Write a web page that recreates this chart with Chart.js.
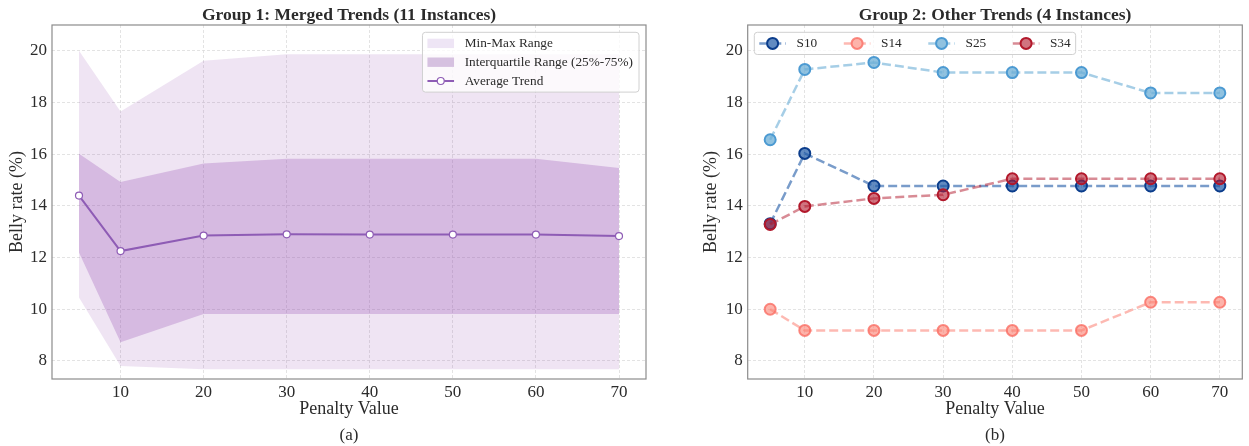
<!DOCTYPE html>
<html>
<head>
<meta charset="utf-8">
<script src="https://cdn.jsdelivr.net/npm/chart.js@4.4.0/dist/chart.umd.min.js"></script>
<style>
html, body { margin: 0; padding: 0; background: #fff; overflow: hidden; width: 1249px; height: 446px; }
.box { position: absolute; top: 0; height: 446px; }
#wrapA { left: 0; width: 698px; }
#wrapB { left: 698px; width: 594px; }
</style>
</head>
<body>
<div class="box" id="wrapA"><canvas id="chartA"></canvas></div>
<div class="box" id="wrapB"><canvas id="chartB"></canvas></div>
<script>
// data
var penalty = [5, 10, 20, 30, 40, 50, 60, 70];
var xTicks = [10, 20, 30, 40, 50, 60, 70];
var yTicks = [8, 10, 12, 14, 16, 18, 20];

// group 1 (11 instances)
var minVals = [10.45, 7.8, 7.68, 7.68, 7.68, 7.68, 7.68, 7.68];
var maxVals = [20.0, 17.65, 19.62, 19.87, 19.87, 19.87, 19.87, 19.87];
var q25Vals = [12.2, 8.72, 9.82, 9.82, 9.82, 9.82, 9.82, 9.82];
var q75Vals = [16.02, 14.92, 15.64, 15.82, 15.82, 15.82, 15.82, 15.47];
var avgVals = [14.4, 12.25, 12.85, 12.9, 12.89, 12.89, 12.89, 12.83];

// group 2 (4 instances)
var s10 = [13.31, 16.03, 14.77, 14.77, 14.77, 14.77, 14.77, 14.77];
var s14 = [10.0, 9.18, 9.18, 9.18, 9.18, 9.18, 10.27, 10.27];
var s25 = [16.56, 19.28, 19.55, 19.16, 19.16, 19.16, 18.37, 18.37];
var s34 = [13.28, 13.98, 14.29, 14.43, 15.05, 15.05, 15.05, 15.05];

var SERIF = '"Liberation Serif", "Times New Roman", serif';
var TXT = '#2b2b2b';

function pts(vals) {
    return penalty.map(function (p, i) { return { x: p, y: vals[i] }; });
}

// frame on all four sides, like matplotlib spines
var spines = {
    id: 'spines',
    afterDatasetsDraw: function (chart) {
        var a = chart.chartArea, ctx = chart.ctx;
        ctx.save();
        ctx.strokeStyle = '#8c8c8c';
        ctx.lineWidth = 1.2;
        ctx.strokeRect(a.left, a.top, a.right - a.left, a.bottom - a.top);
        ctx.restore();
    }
};

// legend drawn inside the plot area
var insideLegend = {
    id: 'insideLegend',
    afterDraw: function (chart, args, opts) {
        var ctx = chart.ctx, a = chart.chartArea;
        var fs = 13.3, pad = 5, handle = 26.6, tpad = 10.6, colsp = 26.6, rowH = 18.8;
        var items = chart.data.datasets.filter(function (d) { return !d.hideInLegend; });
        ctx.save();
        ctx.font = fs + 'px ' + SERIF;
        var widths = items.map(function (d) { return ctx.measureText(d.label).width; });
        var w, h;
        if (opts.horizontal) {
            w = pad * 2;
            widths.forEach(function (tw, i) { w += handle + tpad + tw + (i > 0 ? colsp : 0); });
            h = rowH + 3.4;
        } else {
            w = pad * 2 + handle + tpad + Math.max.apply(null, widths) + 1;
            h = items.length * rowH + 3.4;
        }
        var left = opts.align === 'right' ? a.right - opts.offsetX - w : a.left + opts.offsetX;
        var top = a.top + opts.offsetY;

        ctx.beginPath();
        ctx.roundRect(left, top, w, h, 3);
        ctx.fillStyle = 'rgba(255,255,255,0.8)';
        ctx.fill();
        ctx.strokeStyle = '#d0d0d0';
        ctx.lineWidth = 1;
        ctx.stroke();

        var x = left + pad;
        items.forEach(function (d, i) {
            var cy = opts.horizontal ? top + 1.7 + rowH / 2 : top + 1.7 + rowH * (i + 0.5);
            var hx = opts.horizontal ? x : left + pad;
            if (d.legendPatch) {
                ctx.fillStyle = d.legendPatch;
                ctx.fillRect(hx, cy - 4.7, handle, 9.4);
            } else {
                ctx.save();
                ctx.strokeStyle = d.borderColor;
                ctx.lineWidth = d.borderWidth;
                ctx.setLineDash(d.borderDash || []);
                ctx.beginPath();
                ctx.moveTo(hx, cy);
                ctx.lineTo(hx + handle, cy);
                ctx.stroke();
                ctx.restore();
                ctx.beginPath();
                ctx.arc(hx + handle / 2, cy, d.pointRadius, 0, Math.PI * 2);
                ctx.fillStyle = '#fff';
                ctx.fill();
                ctx.fillStyle = d.pointBackgroundColor;
                ctx.fill();
                ctx.lineWidth = d.pointBorderWidth;
                ctx.strokeStyle = d.pointBorderColor;
                ctx.stroke();
            }
            ctx.fillStyle = TXT;
            ctx.textAlign = 'left';
            ctx.textBaseline = 'middle';
            ctx.fillText(d.label, hx + handle + tpad, cy + 0.5);
            x += handle + tpad + widths[i] + colsp;
        });
        ctx.restore();
    }
};

function makeOptions(title, sub, yWidth, yTitlePad, legendOpts) {
    return {
        responsive: true,
        maintainAspectRatio: false,
        animation: false,
        events: [],
        layout: { padding: 0 },
        plugins: {
            legend: { display: false },
            tooltip: { enabled: false },
            title: {
                display: true, text: title, color: TXT,
                font: { family: SERIF, size: 17.5, weight: 'bold' },
                padding: { top: 5, bottom: -1 }
            },
            subtitle: {
                display: true, position: 'bottom', text: sub, color: TXT,
                font: { family: SERIF, size: 17 },
                padding: { top: 0, bottom: 0 }
            },
            insideLegend: legendOpts
        },
        scales: {
            x: {
                type: 'linear', min: 1.75, max: 73.25,
                afterBuildTicks: function (s) { s.ticks = xTicks.map(function (v) { return { value: v }; }); },
                afterFit: function (s) { s.height = 46.6; },
                grid: { color: '#dcdcdc', lineWidth: 0.8, drawTicks: false },
                border: { display: false, dash: [3, 2] },
                ticks: { color: TXT, padding: 3, font: { family: SERIF, size: 17 } },
                title: {
                    display: true, text: 'Penalty Value', color: TXT,
                    font: { family: SERIF, size: 18 }, padding: { top: 0, bottom: 5.8 }
                }
            },
            y: {
                min: 7.3, max: 21.0,
                afterBuildTicks: function (s) { s.ticks = yTicks.map(function (v) { return { value: v }; }); },
                afterFit: function (s) { s.width = yWidth; },
                grid: { color: '#dcdcdc', lineWidth: 0.8, drawTicks: false },
                border: { display: false, dash: [3, 2] },
                ticks: { color: TXT, padding: 5, font: { family: SERIF, size: 17 } },
                title: {
                    display: true, text: 'Belly rate (%)', color: TXT,
                    font: { family: SERIF, size: 18 }, padding: { top: yTitlePad, bottom: 0 }
                }
            },
            // empty right-hand axis, keeps the plot centred under its title
            yRight: {
                position: 'right', min: 7.3, max: 21.0,
                afterFit: function (s) { s.width = yWidth; },
                grid: { display: false },
                border: { display: false },
                ticks: { display: false }
            }
        }
    };
}

var purple = '#8e5cb5';

new Chart(document.getElementById('chartA'), {
    type: 'line',
    data: {
        datasets: [
            { label: 'min', hideInLegend: true, data: pts(minVals), borderWidth: 0, pointRadius: 0, fill: false, order: 4 },
            { label: 'Min-Max Range', legendPatch: 'rgb(238,229,245)', data: pts(maxVals), borderWidth: 0, pointRadius: 0,
              backgroundColor: 'rgba(155,89,182,0.16)', fill: '-1', order: 3 },
            { label: 'q25', hideInLegend: true, data: pts(q25Vals), borderWidth: 0, pointRadius: 0, fill: false, order: 2 },
            { label: 'Interquartile Range (25%-75%)', legendPatch: 'rgb(214,193,224)', data: pts(q75Vals), borderWidth: 0, pointRadius: 0,
              backgroundColor: 'rgba(155,89,182,0.30)', fill: '-1', order: 1 },
            { label: 'Average Trend', data: pts(avgVals), borderColor: purple, borderWidth: 2,
              pointRadius: 3.5, pointBackgroundColor: '#fff', pointBorderColor: purple, pointBorderWidth: 1.2,
              fill: false, order: 0 }
        ]
    },
    options: makeOptions('Group 1: Merged Trends (11 Instances)', '(a)', 52, 6.2,
        { align: 'right', offsetX: 7, offsetY: 7.3, horizontal: false }),
    plugins: [spines, insideLegend]
});

function seriesSet(label, vals, rgb, lineA, faceA, edge, order) {
    return {
        label: label, data: pts(vals), fill: false, order: order,
        borderColor: 'rgba(' + rgb + ',' + lineA + ')', borderWidth: 2.5, borderDash: [9, 4],
        pointRadius: 5.5, pointBorderWidth: 2,
        pointBackgroundColor: 'rgba(' + rgb + ',' + faceA + ')', pointBorderColor: edge
    };
}

new Chart(document.getElementById('chartB'), {
    type: 'line',
    data: {
        datasets: [
            seriesSet('S10', s10, '31,90,166', 0.6, 0.7, '#0b3d8c', 3),
            seriesSet('S14', s14, '251,128,114', 0.55, 0.6, 'rgba(250,110,100,0.8)', 2),
            seriesSet('S25', s25, '107,174,214', 0.6, 0.75, '#4c9ad2', 1),
            seriesSet('S34', s34, '178,24,43', 0.5, 0.6, '#b2182b', 0)
        ]
    },
    options: makeOptions('Group 2: Other Trends (4 Instances)', '(b)', 49.7, 2.9,
        { align: 'left', offsetX: 6.6, offsetY: 7.3, horizontal: true }),
    plugins: [spines, insideLegend]
});
</script>
</body>
</html>
